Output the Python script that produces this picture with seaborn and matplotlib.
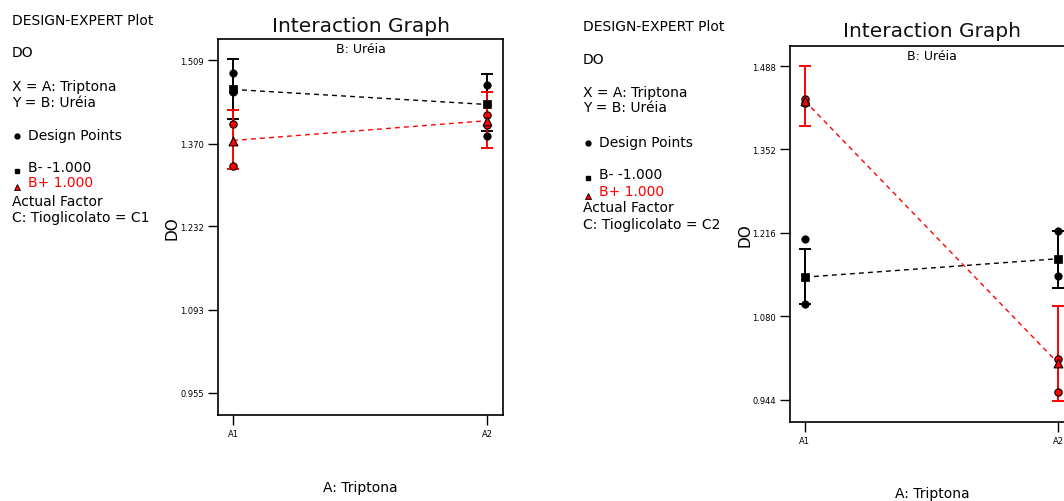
import numpy as np
import pandas as pd
import matplotlib
matplotlib.use("Agg")
import matplotlib.pyplot as plt
from matplotlib.lines import Line2D
import seaborn as sns

# ---------------- data ----------------
levels = ["A1", "A2"]

# Panel 1: C = C1
c1_bminus_mean = [1.460, 1.435]
c1_bminus_lo = [1.410, 1.390]
c1_bminus_hi = [1.510, 1.485]
c1_bminus_pts_a1 = [1.488, 1.455]
c1_bminus_pts_a2 = [1.468, 1.383]
c1_bplus_mean = [1.375, 1.408]
c1_bplus_lo = [1.328, 1.363]
c1_bplus_hi = [1.425, 1.455]
c1_bplus_pts_a1 = [1.403, 1.332]
c1_bplus_pts_a2 = [1.417, 1.400]
c1_yticks = [0.955, 1.093, 1.232, 1.370, 1.509]
c1_ytick_labels = ["0.955", "1.093", "1.232", "1.370", "1.509"]

# Panel 2: C = C2
c2_bminus_mean = [1.144, 1.174]
c2_bminus_lo = [1.100, 1.126]
c2_bminus_hi = [1.190, 1.219]
c2_bminus_pts_a1 = [1.206, 1.100]
c2_bminus_pts_a2 = [1.219, 1.146]
c2_bplus_mean = [1.431, 1.004]
c2_bplus_lo = [1.390, 0.942]
c2_bplus_hi = [1.488, 1.097]
c2_bplus_pts_a1 = [1.434, 1.428]
c2_bplus_pts_a2 = [1.011, 0.957]
c2_yticks = [0.944, 1.080, 1.216, 1.352, 1.488]
c2_ytick_labels = ["0.944", "1.080", "1.216", "1.352", "1.488"]

sns.set_theme(style="white")
plt.rcParams["font.family"] = ["DejaVu Sans"]
plt.rcParams["text.color"] = "black"
plt.rcParams["axes.labelcolor"] = "black"
plt.rcParams["xtick.color"] = "black"
plt.rcParams["ytick.color"] = "black"

W, H = 1064, 502
fig = plt.figure(figsize=(W / 100, H / 100), dpi=100)


def fx(px):
    return px / W


def fy(py):
    return 1 - py / H


RED = "#ff0000"


def panel(rect, ylim, yticks, ylabels, bm, bmlo, bmhi, bmp1, bmp2,
          bp, bplo, bphi, bpp1, bpp2, title_y, sub_y, xlabel_off):
    ax = fig.add_axes(rect)
    xpos = {lv: i for i, lv in enumerate(levels)}
    means = pd.DataFrame({
        "x": [xpos[l] for l in levels] * 2,
        "y": list(bm) + list(bp),
        "B": ["B-"] * 2 + ["B+"] * 2,
    })
    pts = pd.DataFrame({
        "x": [0] * len(bmp1) + [1] * len(bmp2) + [0] * len(bpp1) + [1] * len(bpp2),
        "y": list(bmp1) + list(bmp2) + list(bpp1) + list(bpp2),
        "B": ["B-"] * (len(bmp1) + len(bmp2)) + ["B+"] * (len(bpp1) + len(bpp2)),
    })
    # dashed interaction lines
    sns.lineplot(data=means, x="x", y="y", hue="B", palette={"B-": "black", "B+": RED},
                 ax=ax, legend=False, linewidth=1.0, zorder=2)
    for ln in ax.lines:
        ln.set_dashes((3.5, 3))
    # error bars
    for m, lo, hi, col in [(bm, bmlo, bmhi, "black"), (bp, bplo, bphi, RED)]:
        m = np.asarray(m); lo = np.asarray(lo); hi = np.asarray(hi)
        ax.errorbar([0, 1], m, yerr=[m - lo, hi - m], fmt="none", ecolor=col,
                    elinewidth=1.4, capsize=4.5, capthick=1.4, zorder=3)
    # design points
    sns.scatterplot(data=pts[pts.B == "B-"], x="x", y="y", color="black", marker="o",
                    s=28, edgecolor="black", linewidth=0.6, ax=ax, legend=False, zorder=4)
    sns.scatterplot(data=pts[pts.B == "B+"], x="x", y="y", color=RED, marker="o",
                    s=28, edgecolor="black", linewidth=0.8, ax=ax, legend=False, zorder=4)
    # predicted means
    sns.scatterplot(data=means[means.B == "B-"], x="x", y="y", color="black", marker="s",
                    s=40, edgecolor="black", ax=ax, legend=False, zorder=5)
    sns.scatterplot(data=means[means.B == "B+"], x="x", y="y", color=RED, marker="^",
                    s=40, edgecolor="black", linewidth=0.8, ax=ax, legend=False, zorder=5)

    ax.set_xlim(-0.059, 1.063)
    ax.set_ylim(*ylim)
    ax.set_xticks([0, 1])
    ax.set_xticklabels(levels)
    ax.set_yticks(yticks)
    ax.set_yticklabels(ylabels)
    ax.tick_params(axis="both", direction="out", length=7, width=1.0, color="black",
                   labelsize=6, pad=3, bottom=True, left=True)
    for s in ax.spines.values():
        s.set_color("black")
        s.set_linewidth(1.2)
    ax.set_xlabel("A: Triptona", fontsize=10)
    ax.xaxis.set_label_coords(0.5, xlabel_off)
    ax.xaxis.label.set_va("center")
    ax.set_ylabel("DO", fontsize=11)
    ax.yaxis.set_label_coords(-0.16, 0.5)
    ax.yaxis.label.set_va("center")
    ax.text(0.5, sub_y, "B: Uréia", transform=ax.transAxes, ha="center", va="center",
            fontsize=9)
    ax.text(0.5, title_y, "Interaction Graph", transform=ax.transAxes, ha="center",
            va="center", fontsize=14.5, color="#111111")
    return ax


# panel 1
ax1 = panel([fx(218), fy(416), fx(285), (416 - 40) / H], (0.918, 1.544),
            c1_yticks, c1_ytick_labels,
            c1_bminus_mean, c1_bminus_lo, c1_bminus_hi, c1_bminus_pts_a1, c1_bminus_pts_a2,
            c1_bplus_mean, c1_bplus_lo, c1_bplus_hi, c1_bplus_pts_a1, c1_bplus_pts_a2,
            title_y=1 + (40 - 27) / 376, sub_y=1 - (50 - 40) / 376, xlabel_off=-(488 - 416) / 376)

# panel 2 (extends beyond the right edge, as in the reference)
ax2 = panel([fx(790), fy(423), fx(284), (423 - 47) / H], (0.908, 1.5206),
            c2_yticks, c2_ytick_labels,
            c2_bminus_mean, c2_bminus_lo, c2_bminus_hi, c2_bminus_pts_a1, c2_bminus_pts_a2,
            c2_bplus_mean, c2_bplus_lo, c2_bplus_hi, c2_bplus_pts_a1, c2_bplus_pts_a2,
            title_y=1 + (47 - 32) / 376, sub_y=1 - (57 - 47) / 376, xlabel_off=-(494 - 423) / 376)


def side_text(x0, ys, cfac):
    fs = 10
    fig.text(fx(x0), fy(ys[0]), "DESIGN-EXPERT Plot", fontsize=fs, va="center")
    fig.text(fx(x0), fy(ys[1]), "DO", fontsize=fs, va="center")
    fig.text(fx(x0), fy(ys[2]), "X = A: Triptona", fontsize=fs, va="center")
    fig.text(fx(x0), fy(ys[3]), "Y = B: Uréia", fontsize=fs, va="center")
    fig.text(fx(x0 + 16), fy(ys[4]), "Design Points", fontsize=fs, va="center")
    fig.text(fx(x0 + 16), fy(ys[5]), "B- -1.000", fontsize=fs, va="center")
    fig.text(fx(x0 + 16), fy(ys[6]), "B+ 1.000", fontsize=fs, va="center", color=RED)
    fig.text(fx(x0), fy(ys[7]), "Actual Factor", fontsize=fs, va="center")
    fig.text(fx(x0), fy(ys[8]), "C: Tioglicolato = " + cfac, fontsize=fs, va="center")
    mx = fx(x0 + 5)
    fig.add_artist(Line2D([mx], [fy(ys[4] + 1)], marker="o", color="black", markersize=3.5,
                          linestyle="none"))
    fig.add_artist(Line2D([mx], [fy(ys[5] + 4)], marker="s", color="black", markersize=3.5,
                          linestyle="none"))
    fig.add_artist(Line2D([mx], [fy(ys[6] + 5)], marker="^", markerfacecolor=RED,
                          markeredgecolor="black", markeredgewidth=0.6, markersize=4,
                          linestyle="none"))


side_text(12, [21, 53, 87, 103, 136, 168, 183, 202, 218], "C1")
side_text(583, [27, 60, 93, 108, 143, 175, 192, 208, 225], "C2")

fig.savefig("out.png", dpi=100)
